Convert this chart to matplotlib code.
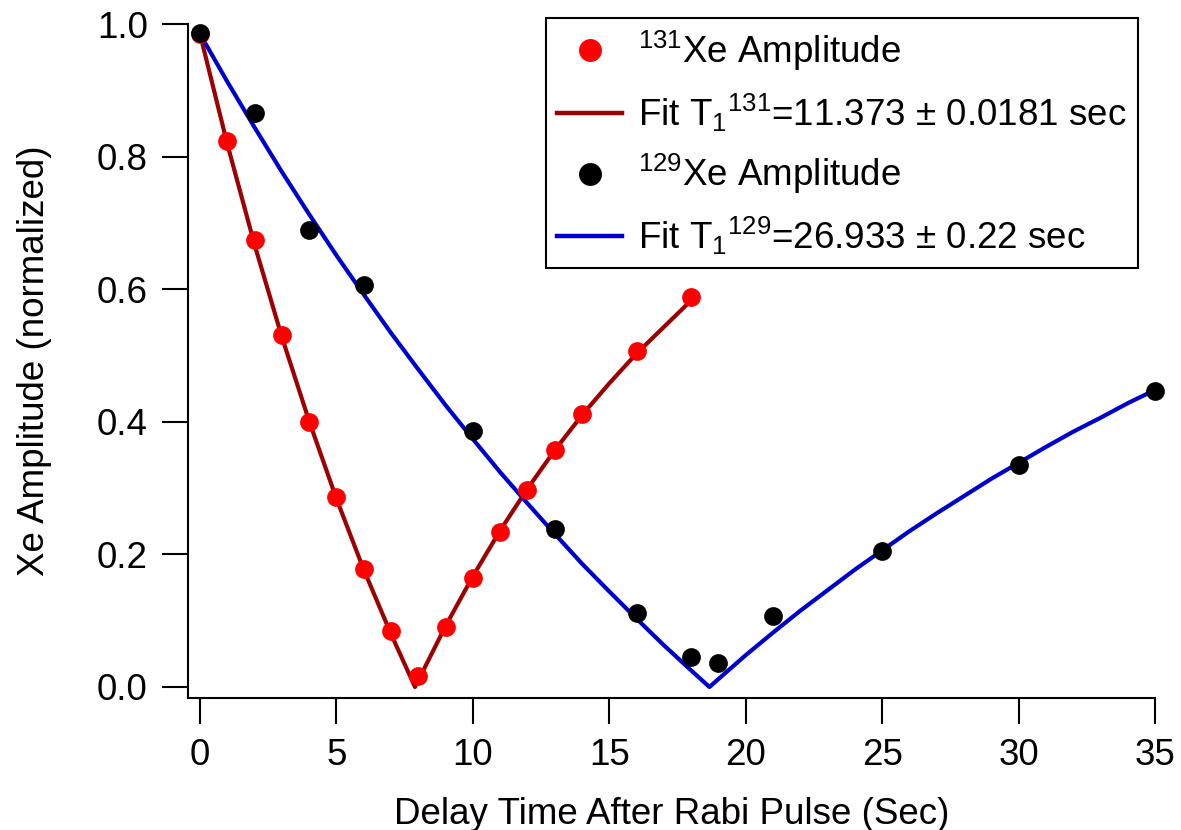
import matplotlib
matplotlib.use("Agg")
import matplotlib.pyplot as plt
from matplotlib.lines import Line2D

plt.rcParams["font.family"] = ["Liberation Sans", "DejaVu Sans"]
plt.rcParams["mathtext.fontset"] = "custom"
plt.rcParams["mathtext.rm"] = "Liberation Sans"
plt.rcParams["mathtext.it"] = "Liberation Sans"
plt.rcParams["mathtext.default"] = "regular"

# measured amplitudes
t131 = [0, 1, 2, 3, 4, 5, 6, 7, 8, 9, 10, 11, 12, 13, 14, 16, 18]
amp131 = [0.985, 0.824, 0.674, 0.531, 0.400, 0.287, 0.178, 0.084, 0.017,
          0.090, 0.164, 0.234, 0.297, 0.357, 0.412, 0.507, 0.588]

t129 = [0, 2, 4, 6, 10, 13, 16, 18, 19, 21, 25, 30, 35]
amp129 = [0.986, 0.866, 0.689, 0.606, 0.386, 0.238, 0.112, 0.045, 0.036,
          0.107, 0.205, 0.335, 0.446]

# fit curves
fit131_t = [0, 1, 2, 3, 4, 5, 6, 7, 7.88, 9, 10, 11, 12, 13, 14, 15, 16, 17, 18]
fit131_y = [0.985, 0.819, 0.667, 0.528, 0.401, 0.284, 0.177, 0.080, 0.0,
            0.092, 0.167, 0.236, 0.299, 0.357, 0.410, 0.458, 0.503, 0.543, 0.583]

fit129_t = [0, 1, 2, 3, 4, 5, 6, 7, 8, 9, 10, 11, 12, 13, 14, 15, 16, 17, 18,
            18.67, 19, 20, 21, 22, 23, 24, 25, 26, 27, 28, 29, 30, 31, 32, 33, 34, 35]
fit129_y = [0.985, 0.913, 0.844, 0.777, 0.713, 0.651, 0.592, 0.534, 0.479,
            0.425, 0.374, 0.324, 0.277, 0.231, 0.186, 0.144, 0.103, 0.063, 0.025,
            0.0, 0.012, 0.048, 0.082, 0.115, 0.146, 0.177, 0.206, 0.235, 0.262,
            0.288, 0.314, 0.338, 0.362, 0.385, 0.406, 0.428, 0.448]

red_line = "#9c0000"
blue_line = "#0000cc"
fs = 26.5

fig = plt.figure(figsize=(11.81, 8.30), dpi=100)
ax = fig.add_axes([188/1181, 132/830, 967/1181, 674/830])

ax.plot(fit131_t, fit131_y, color=red_line, lw=3.0, clip_on=False, zorder=2)
ax.plot(fit129_t, fit129_y, color=blue_line, lw=3.0, clip_on=False, zorder=2)
ax.plot(t131, amp131, "o", color="#ff0000", ms=13.5, mew=0, clip_on=False, zorder=3)
ax.plot(t129, amp129, "o", color="black", ms=13.5, mew=0, clip_on=False, zorder=4)

ax.set_xlim(-0.44, 35)
ax.set_ylim(-0.0166, 1.0)
ax.set_xticks([0, 5, 10, 15, 20, 25, 30, 35])
ax.set_yticks([0.0, 0.2, 0.4, 0.6, 0.8, 1.0])
ax.set_yticklabels(["0.0", "0.2", "0.4", "0.6", "0.8", "1.0"])

for s in ["top", "right"]:
    ax.spines[s].set_visible(False)
for s in ["left", "bottom"]:
    ax.spines[s].set_linewidth(1.5)
ax.tick_params(direction="out", length=19, width=1.5, labelsize=fs, pad=10)

ax.set_xlabel("Delay Time After Rabi Pulse (Sec)", fontsize=fs, labelpad=17)
ax.set_ylabel("Xe Amplitude (normalized)", fontsize=fs, labelpad=32)

handles = [
    Line2D([], [], ls="none", marker="o", color="#ff0000", ms=16.5, mew=0),
    Line2D([], [], color=red_line, lw=3.2),
    Line2D([], [], ls="none", marker="o", color="black", ms=16.5, mew=0),
    Line2D([], [], color=blue_line, lw=3.2),
]
labels = [
    r"$^{131}$Xe Amplitude",
    r"Fit T$_1$$^{131}$=11.373 ± 0.0181 sec",
    r"$^{129}$Xe Amplitude",
    r"Fit T$_1$$^{129}$=26.933 ± 0.22 sec",
]
leg = ax.legend(handles, labels, loc="upper right", bbox_to_anchor=(0.9824, 1.0089),
                borderaxespad=0, fontsize=fs, frameon=True, fancybox=False,
                edgecolor="black", framealpha=1, handlelength=1.75,
                labelspacing=0.5, borderpad=0.3, handletextpad=0.45)
leg.get_frame().set_linewidth(1.5)

fig.savefig("out.png", dpi=100)
